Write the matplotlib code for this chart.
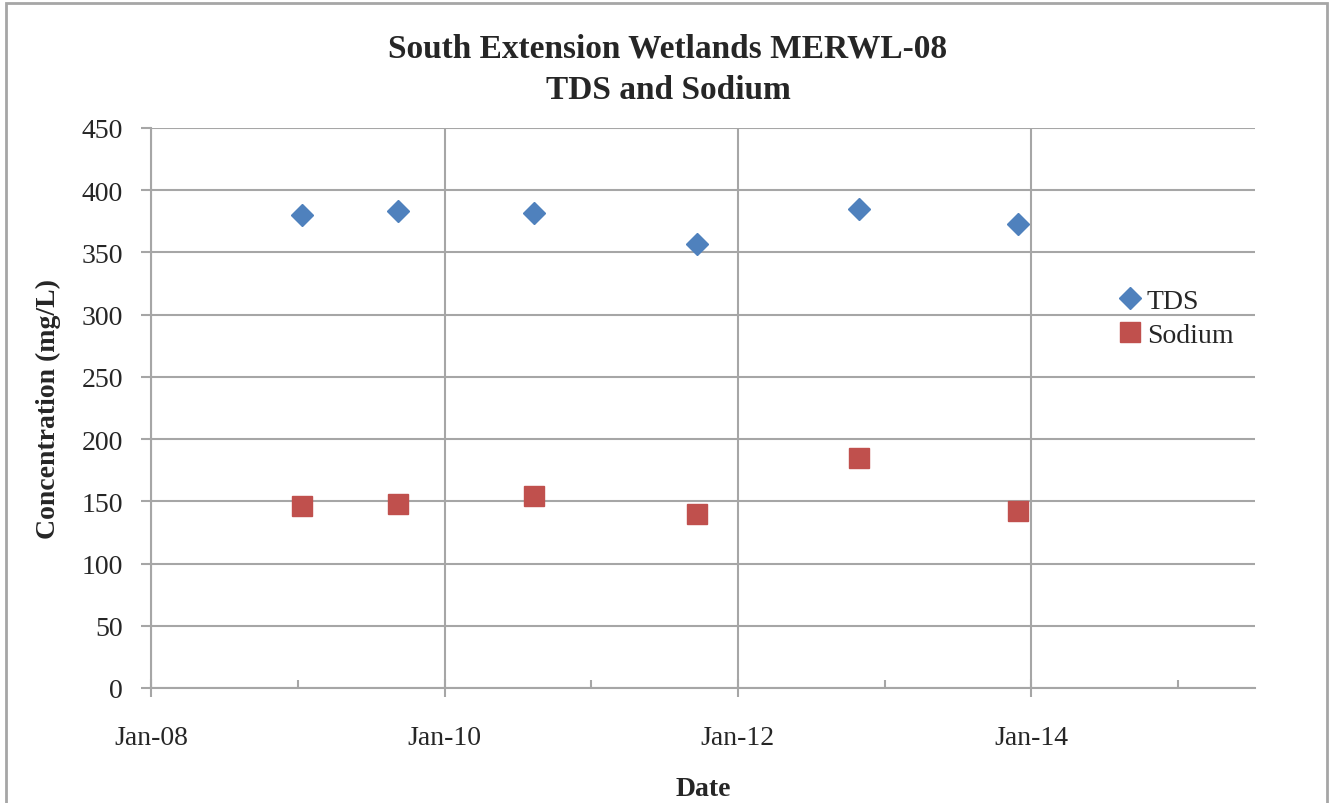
import matplotlib
matplotlib.use("Agg")
import matplotlib.pyplot as plt
import matplotlib.dates as mdates
from matplotlib.patches import Rectangle
from datetime import datetime

plt.rcParams['font.family'] = ['Liberation Serif', 'DejaVu Serif']

# sample dates
dates = [datetime(2009, 1, 11), datetime(2009, 9, 7), datetime(2010, 8, 12),
         datetime(2011, 9, 22), datetime(2012, 10, 29), datetime(2013, 11, 29)]
tds = [380, 383, 382, 357, 385, 373]
sodium = [146, 148, 154, 140, 185, 142]

title = "South Extension Wetlands MERWL-08\nTDS and Sodium"
xlabel = "Date"
ylabel = "Concentration (mg/L)"

grid_c = '#A6A6A6'
text_c = '#262626'

fig = plt.figure(figsize=(13.32, 8.04), dpi=100)
ax = fig.add_axes([151 / 1332, 1 - 689 / 804, (1255 - 151) / 1332, (689 - 129) / 804])

ax.plot(dates, tds, linestyle='none', marker='D', ms=10.8, color='#4F81BD',
        markeredgecolor='#4F81BD', label='TDS', zorder=3)
ax.plot(dates, sodium, linestyle='none', marker='s', ms=14.4, color='#C0504D',
        markeredgecolor='#C0504D', label='Sodium', zorder=3)

ax.set_xlim(datetime(2008, 1, 1), datetime(2015, 7, 12))
ax.set_ylim(0, 450)
ax.set_yticks(range(0, 451, 50))

ax.xaxis.set_major_locator(mdates.YearLocator(2))
ax.xaxis.set_major_formatter(mdates.DateFormatter('%b-%y'))
ax.xaxis.set_minor_locator(mdates.YearLocator(1))

ax.grid(True, which='major', color=grid_c, linewidth=1.5)
ax.set_axisbelow(True)
for s in ['top', 'right']:
    ax.spines[s].set_visible(False)
for s in ['left', 'bottom']:
    ax.spines[s].set_color(grid_c)
    ax.spines[s].set_linewidth(1.5)

ax.tick_params(axis='y', direction='out', length=7, width=1.5, color=grid_c,
               labelsize=20, labelcolor=text_c, pad=13)
ax.tick_params(axis='x', which='major', direction='inout', length=13, width=1.5,
               color=grid_c, labelsize=20, labelcolor=text_c, pad=20)
ax.tick_params(axis='x', which='minor', direction='in', length=6, width=1.5,
               color=grid_c)

ax.set_xlabel(xlabel, fontsize=20, fontweight='bold', color=text_c, labelpad=19)
ax.set_ylabel(ylabel, fontsize=20, fontweight='bold', color=text_c, labelpad=15)

fig.text(668 / 1332, 1 - 70 / 804, title, ha='center', va='center', fontsize=24,
         fontweight='bold', color=text_c, linespacing=1.42)

ax.legend(loc='center left', bbox_to_anchor=(1101 / 1332, 1 - 319 / 804),
          bbox_transform=fig.transFigure, frameon=False, fontsize=20,
          handletextpad=0.05, labelspacing=0.3, borderpad=0, handlelength=1.1,
          labelcolor=text_c)

fig.patches.append(Rectangle((6 / 1332, -0.05), (1327 - 6) / 1332, 1.05 - 4 / 804,
                             transform=fig.transFigure, fill=False,
                             edgecolor=grid_c, linewidth=2, zorder=0))

fig.savefig('out.png', dpi=100)
